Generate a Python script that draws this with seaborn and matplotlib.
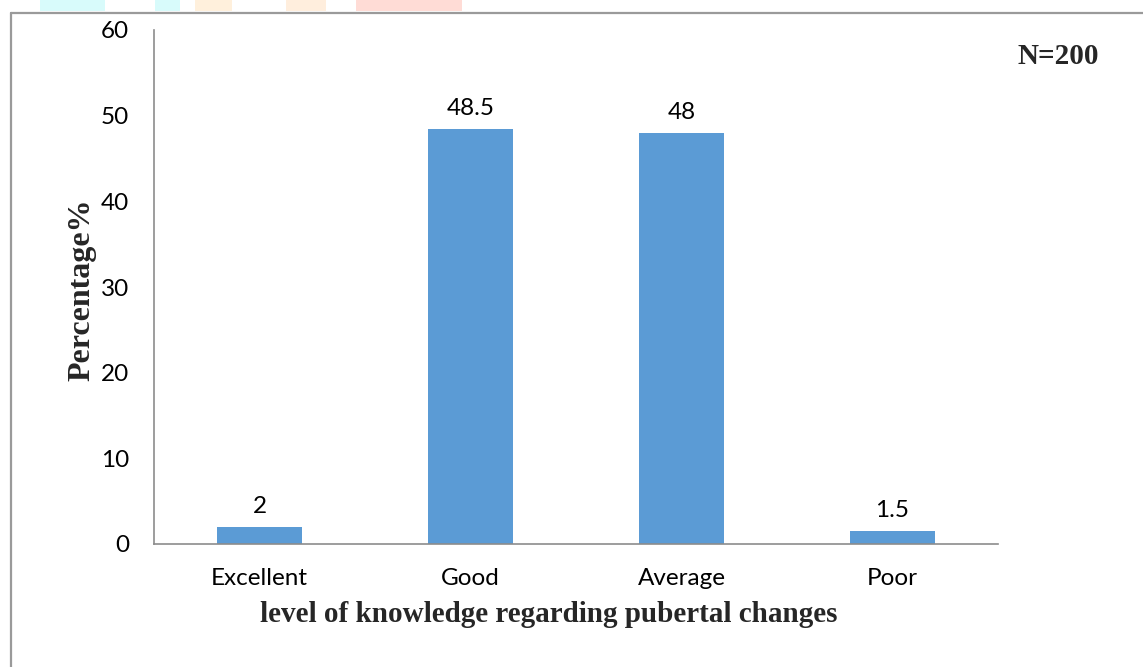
import matplotlib
matplotlib.use("Agg")
import matplotlib.pyplot as plt
import seaborn as sns
import pandas as pd
from matplotlib.patches import Rectangle
from matplotlib.lines import Line2D

categories = ["Excellent", "Good", "Average", "Poor"]
percentages = [2, 48.5, 48, 1.5]
value_labels = ["2", "48.5", "48", "1.5"]
y_ticks = [0, 10, 20, 30, 40, 50, 60]

sns.set_theme(style="white")
plt.rcParams["font.family"] = ["Lato", "DejaVu Sans"]

df = pd.DataFrame({"level": categories, "pct": percentages})

fig = plt.figure(figsize=(11.43, 6.67), dpi=100)
ax = fig.add_axes([154 / 1143, 1 - 544 / 667, (998 - 154) / 1143, (544 - 30) / 667])

bar_color = "#5B9BD5"
sns.barplot(data=df, x="level", y="pct", color=bar_color, width=0.4,
            saturation=1, ax=ax, edgecolor="none")

ax.set_xlim(-0.5, len(categories) - 0.5)
ax.set_ylim(0, 60)
ax.set_yticks(y_ticks)
ax.set_yticklabels([str(t) for t in y_ticks], fontsize=17.5, color="black")
ax.set_xticks(range(len(categories)))
ax.set_xticklabels(categories, fontsize=17.5, color="black")

# category boundary ticks on the x axis
ax.set_xticks([i - 0.5 for i in range(len(categories) + 1)], minor=True)
ax.tick_params(axis="x", which="major", length=0, pad=17)
ax.tick_params(axis="x", which="minor", length=6, width=1.2, color="#8c8c8c", direction="out")
ax.tick_params(axis="y", length=6, width=1.2, color="#8c8c8c", direction="out", pad=12)

for side in ["top", "right"]:
    ax.spines[side].set_visible(False)
for side in ["left", "bottom"]:
    ax.spines[side].set_color("#8c8c8c")
    ax.spines[side].set_linewidth(1.2)

for i, (v, lab) in enumerate(zip(percentages, value_labels)):
    ax.annotate(lab, (i, v), xytext=(0, 7), textcoords="offset points",
                ha="center", va="bottom", fontsize=17.5, color="black")

ax.set_xlabel("level of knowledge regarding pubertal changes",
              fontfamily="Liberation Serif", fontweight="bold", fontsize=21)
ax.xaxis.set_label_coords(0.468, -0.11)
ax.set_ylabel("Percentage%", fontfamily="Liberation Serif", fontweight="bold",
              fontsize=23)
ax.yaxis.set_label_coords(-0.068, 0.495)

fig.text(1058 / 1143, 1 - 57 / 667, "N=200", fontfamily="Liberation Serif",
         fontweight="bold", fontsize=21, ha="center", va="center")

# outer frame (runs past the right and bottom edges)
fig.add_artist(Line2D([11 / 1143, 1.01], [1 - 13 / 667, 1 - 13 / 667],
                      transform=fig.transFigure, color="#9a9a9a", lw=1.6))
fig.add_artist(Line2D([11 / 1143, 11 / 1143], [1 - 13 / 667, -0.01],
                      transform=fig.transFigure, color="#9a9a9a", lw=1.6))

# faint coloured banner strip above the frame
banner = [(40, 105, "#d8fbfb"), (155, 180, "#d8fbfb"), (195, 232, "#fff0dc"),
          (286, 326, "#ffeedd"), (356, 462, "#ffdcd6")]
for x0, x1, c in banner:
    fig.add_artist(Rectangle((x0 / 1143, 1 - 11 / 667), (x1 - x0) / 1143, 11 / 667,
                             transform=fig.transFigure, color=c, lw=0, zorder=0))

fig.savefig("out.png", dpi=100, facecolor="white")
